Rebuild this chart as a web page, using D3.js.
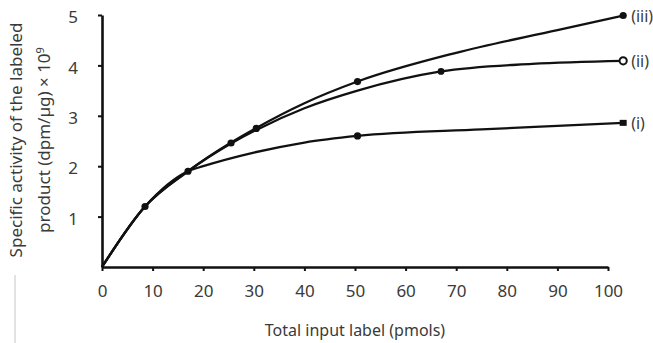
<!DOCTYPE html>
<html>
<head>
<meta charset="utf-8">
<script src="https://cdn.jsdelivr.net/npm/d3@7"></script>
<style>
  body { margin: 0; background: #fff; }
  svg text { font-family: "Noto Sans", "Open Sans", sans-serif; fill: #3a3a3a; }
</style>
</head>
<body>
<svg id="chart" width="653" height="343"></svg>
<script>
// values
const xTicks = [0, 10, 20, 30, 40, 50, 60, 70, 80, 90, 100];
const yTicks = [1, 2, 3, 4, 5];
const seriesNames = ["(i)", "(ii)", "(iii)"];

const curveI = [[0, 0], [8.5, 1.2], [17, 1.9], [20, 2.0], [30, 2.27], [40, 2.47], [50.5, 2.6], [75, 2.73], [90, 2.8], [103, 2.86]];
const curveII = [[0, 0], [8.5, 1.2], [17, 1.9], [25.5, 2.45], [30.5, 2.72], [40, 3.15], [50.5, 3.5], [67, 3.88], [85, 4.03], [103, 4.09]];
const curveIII = [[0, 0], [8.5, 1.2], [17, 1.9], [25.5, 2.47], [30.5, 2.76], [40, 3.25], [50.5, 3.68], [70, 4.25], [90, 4.7], [103, 4.99]];

// measured points drawn as markers
const markersI = [[50.5, 2.6], [103, 2.86]];
const markersII = [[67, 3.88], [103, 4.09]];
const markersIII = [[50.5, 3.68], [103, 4.99]];
const markersShared = [[8.5, 1.2], [17, 1.9], [25.5, 2.46], [30.5, 2.75]];

const svg = d3.select("#chart");

const x = d3.scaleLinear().domain([0, 100]).range([102, 608]);
const y = d3.scaleLinear().domain([0, 5]).range([267, 15]);

// axes
const xAxis = svg.append("g").attr("transform", `translate(0,${y(0)})`)
    .call(d3.axisBottom(x).tickValues(xTicks).tickSize(4).tickPadding(14).tickSizeOuter(0));
const yAxis = svg.append("g").attr("transform", `translate(${x(0)},0)`)
    .call(d3.axisLeft(y).tickValues(yTicks).tickFormat(d3.format("d")).tickSize(4).tickPadding(20).tickSizeOuter(0));

[xAxis, yAxis].forEach((a) => {
    a.select(".domain").attr("stroke", "#111").attr("stroke-width", 2.6);
    a.selectAll(".tick line").attr("stroke", "#111").attr("stroke-width", 2);
    a.selectAll(".tick text").style("font-size", "17px").attr("fill", "#3a3a3a");
});
yAxis.selectAll(".tick text").attr("dy", "0.45em");

// axis titles
svg.append("text")
    .attr("x", 355).attr("y", 336)
    .attr("text-anchor", "middle")
    .style("font-size", "16px")
    .text("Total input label (pmols)");

const yTitle = svg.append("g").attr("transform", "translate(0,140) rotate(-90)");
yTitle.append("text")
    .attr("x", 0).attr("y", 22)
    .attr("text-anchor", "middle")
    .style("font-size", "17px")
    .text("Specific activity of the labeled");
yTitle.append("text")
    .attr("x", 0).attr("y", 50)
    .attr("text-anchor", "middle")
    .style("font-size", "17px")
    .html("product (dpm/µg) × 10<tspan dy='-6' font-size='11px'>9</tspan>");

svg.append("line")
    .attr("x1", 15).attr("x2", 15).attr("y1", 275).attr("y2", 343)
    .attr("stroke", "#cfcfcf").attr("stroke-width", 1.2);

// curves
const line = d3.line()
    .x((d) => x(d[0]))
    .y((d) => y(d[1]))
    .curve(d3.curveMonotoneX);

svg.append("g")
    .attr("fill", "none")
    .attr("stroke", "#111")
    .attr("stroke-width", 2.3)
    .selectAll("path")
    .data([curveI, curveII, curveIII])
    .join("path")
    .attr("d", line);

// markers
const mk = svg.append("g").attr("fill", "#111");
mk.selectAll("circle.shared")
    .data(markersShared.concat(markersI.slice(0, 1), markersIII))
    .join("circle")
    .attr("cx", (d) => x(d[0]))
    .attr("cy", (d) => y(d[1]))
    .attr("r", 3.6);
mk.append("circle")
    .attr("cx", x(markersII[0][0])).attr("cy", y(markersII[0][1])).attr("r", 3.4);
mk.append("rect")
    .attr("x", x(markersI[1][0]) - 3.5).attr("y", y(markersI[1][1]) - 3)
    .attr("width", 7).attr("height", 6);
mk.append("circle")
    .attr("cx", x(markersII[1][0])).attr("cy", y(markersII[1][1])).attr("r", 3.6)
    .attr("fill", "#fff").attr("stroke", "#111").attr("stroke-width", 2);

// series labels
const ends = [markersI[1], markersII[1], markersIII[1]];
svg.append("g")
    .selectAll("text")
    .data(seriesNames)
    .join("text")
    .attr("x", (d, i) => x(ends[i][0]) + 8)
    .attr("y", (d, i) => y(ends[i][1]) + 6)
    .style("font-size", "16px")
    .text((d) => d);
</script>
</body>
</html>
